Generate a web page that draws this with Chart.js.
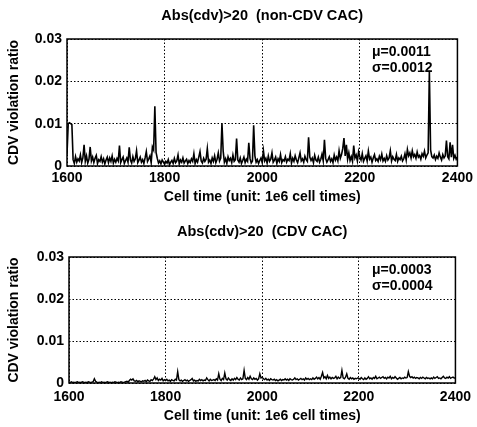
<!DOCTYPE html>
<html>
<head>
<meta charset="utf-8">
<script src="https://cdn.jsdelivr.net/npm/chart.js@4.4.0/dist/chart.umd.min.js"></script>
<style>
  html, body { margin: 0; padding: 0; background: #fff; }
  .box { position: absolute; left: 0; width: 477px; }
</style>
</head>
<body>
<div class="box" style="top:0;height:214px"><canvas id="topChart" width="477" height="214"></canvas></div>
<div class="box" style="top:214px;height:213px"><canvas id="bottomChart" width="477" height="213"></canvas></div>
<script>
// Abs(cdv)>20, non-CDV CAC  (one sample every 2.5 from 1600 to 2400)
const nonCdvRatio = [
  0.0028,0.010,0.0102,0.010,0.0098,0.0015,0.0006,0.0022,0.0009,0.0017,0.0012,0.0026,0.0008,0.0019,0.005,0.0011,0.0024,0.0007,0.0016,0.0045,
  0.0012,0.0021,0.0008,0.0018,0.0025,0.0006,0.0015,0.0011,0.0022,0.0009,0.0017,0.0005,0.0014,0.0021,0.0008,0.0019,0.0011,0.0024,0.0007,0.0016,
  0.0009,0.0018,0.0012,0.0048,0.0008,0.0015,0.0021,0.0006,0.0013,0.0019,0.0009,0.0044,0.0014,0.0007,0.0022,0.0011,0.0017,0.0036,0.0008,0.0014,
  0.0021,0.0009,0.0015,0.0006,0.0019,0.0034,0.0011,0.0017,0.0024,0.0008,0.0045,0.0038,0.0141,0.0032,0.0018,0.0007,0.0012,0.0005,0.0014,0.0009,
  0.0004,0.0011,0.0007,0.0015,0.0003,0.0009,0.0013,0.0006,0.0018,0.0008,0.0012,0.0026,0.0005,0.0014,0.0009,0.0019,0.0007,0.0012,0.0016,0.0006,
  0.0013,0.0008,0.0017,0.0011,0.0029,0.0006,0.0015,0.0009,0.0021,0.0034,0.0012,0.0007,0.0018,0.0011,0.0016,0.0041,0.0009,0.0014,0.0006,0.0019,
  0.0011,0.0024,0.0008,0.0016,0.0031,0.0012,0.0019,0.0101,0.0035,0.0009,0.0017,0.0006,0.0022,0.0013,0.0018,0.0008,0.0026,0.0011,0.0015,0.0065,
  0.0014,0.0009,0.0019,0.0006,0.0013,0.0021,0.0008,0.0016,0.0011,0.0055,0.0018,0.0007,0.0012,0.0096,0.0024,0.0009,0.0015,0.0006,0.0013,0.0019,
  0.0008,0.0036,0.0012,0.0018,0.0007,0.0024,0.0011,0.0016,0.0031,0.0009,0.0014,0.0021,0.0006,0.0017,0.0011,0.0027,0.0008,0.0015,0.0012,0.0022,
  0.0009,0.0016,0.0013,0.0029,0.0007,0.0018,0.0011,0.0024,0.0014,0.0008,0.0019,0.0031,0.0012,0.0017,0.0009,0.0023,0.0015,0.0011,0.0068,0.0021,
  0.0013,0.0019,0.0008,0.0025,0.0014,0.0011,0.0021,0.0009,0.0016,0.0028,0.0012,0.0062,0.0018,0.0009,0.0015,0.0022,0.0011,0.0017,0.0008,0.0026,
  0.0014,0.0021,0.0012,0.0036,0.0018,0.0027,0.0041,0.0066,0.0024,0.005,0.0016,0.0031,0.0013,0.0022,0.0011,0.0048,0.0019,0.0026,0.0012,0.0034,
  0.0022,0.0014,0.0029,0.0011,0.0018,0.0024,0.0012,0.0035,0.0016,0.0021,0.0009,0.0019,0.0027,0.0013,0.0017,0.0011,0.0023,0.0015,0.0028,0.0012,
  0.0018,0.0011,0.0024,0.0014,0.0019,0.0036,0.0012,0.0022,0.0016,0.0013,0.0027,0.0011,0.0019,0.0015,0.0023,0.0012,0.0017,0.0029,0.0014,0.0039,
  0.0024,0.0031,0.0019,0.0036,0.0022,0.0027,0.0018,0.0033,0.0021,0.0025,0.0016,0.0029,0.0023,0.0035,0.0019,0.0026,0.0031,0.0225,0.0038,0.0022,
  0.0019,0.0026,0.0015,0.0023,0.0018,0.0031,0.0021,0.0014,0.0027,0.0019,0.0024,0.006,0.0022,0.0017,0.0056,0.0021,0.005,0.0018,0.0025,0.0016,
  0.0021
];

// Abs(cdv)>20, CDV CAC
const cdvRatio = [
  0.0002,0.0001,0.0003,0.0001,0.0002,0.0001,0.0002,0.0003,0.0001,0.0002,0.0001,0.0003,0.0002,0.0001,0.0002,0.0001,0.0003,0.0002,0.0001,0.0002,
  0.0003,0.0010,0.0004,0.0002,0.0001,0.0002,0.0001,0.0003,0.0001,0.0002,0.0001,0.0002,0.0003,0.0001,0.0002,0.0001,0.0002,0.0001,0.0003,0.0002,
  0.0001,0.0002,0.0001,0.0003,0.0002,0.0001,0.0002,0.0003,0.0004,0.0002,0.0006,0.0009,0.0007,0.0010,0.0005,0.0004,0.0006,0.0003,0.0005,0.0004,
  0.0003,0.0005,0.0004,0.0006,0.0003,0.0007,0.0005,0.0004,0.0008,0.0006,0.0009,0.0015,0.0008,0.0012,0.0006,0.0009,0.0007,0.0011,0.0005,0.0008,
  0.0006,0.0009,0.0005,0.0007,0.0004,0.0008,0.0006,0.0005,0.0009,0.0007,0.0027,0.0008,0.0005,0.0007,0.0004,0.0006,0.0008,0.0005,0.0007,0.0004,
  0.0006,0.0008,0.0011,0.0005,0.0007,0.0004,0.0006,0.0005,0.0009,0.0006,0.0008,0.0005,0.0007,0.0006,0.0012,0.0008,0.0005,0.0009,0.0006,0.0007,
  0.0008,0.0006,0.0010,0.0007,0.0022,0.0009,0.0006,0.0011,0.0008,0.0024,0.0010,0.0007,0.0012,0.0008,0.0006,0.0010,0.0007,0.0011,0.0008,0.0013,
  0.0009,0.0007,0.0012,0.0008,0.0010,0.0030,0.0011,0.0008,0.0013,0.0009,0.0016,0.0010,0.0008,0.0012,0.0009,0.0011,0.0007,0.0010,0.0022,0.0012,
  0.0014,0.0010,0.0008,0.0011,0.0007,0.0009,0.0006,0.0010,0.0008,0.0007,0.0009,0.0006,0.0008,0.0005,0.0007,0.0009,0.0006,0.0008,0.0007,0.0010,
  0.0007,0.0009,0.0006,0.0010,0.0008,0.0007,0.0009,0.0012,0.0008,0.0010,0.0007,0.0009,0.0011,0.0008,0.0010,0.0007,0.0012,0.0009,0.0011,0.0008,
  0.0010,0.0008,0.0012,0.0009,0.0011,0.0014,0.0010,0.0013,0.0009,0.0016,0.0025,0.0012,0.0015,0.0010,0.0018,0.0011,0.0014,0.0010,0.0013,0.0011,
  0.0012,0.0016,0.0010,0.0014,0.0011,0.0013,0.0030,0.0012,0.0010,0.0014,0.0022,0.0011,0.0009,0.0013,0.0010,0.0012,0.0009,0.0011,0.0010,0.0012,
  0.0011,0.0009,0.0013,0.0010,0.0008,0.0012,0.0009,0.0011,0.0015,0.0010,0.0012,0.0009,0.0013,0.0011,0.0016,0.0010,0.0012,0.0014,0.0011,0.0013,
  0.0015,0.0011,0.0013,0.0010,0.0014,0.0012,0.0016,0.0010,0.0013,0.0011,0.0015,0.0012,0.0009,0.0011,0.0013,0.0010,0.0012,0.0011,0.0014,0.0012,
  0.0013,0.0027,0.0016,0.0013,0.0015,0.0012,0.0014,0.0011,0.0013,0.0012,0.0010,0.0013,0.0011,0.0014,0.0012,0.0010,0.0013,0.0011,0.0012,0.0010,
  0.0012,0.0010,0.0014,0.0011,0.0013,0.0015,0.0011,0.0012,0.0010,0.0013,0.0016,0.0012,0.0011,0.0014,0.0012,0.0015,0.0011,0.0013,0.0014,0.0012,
  0.0012
];

// x positions of the samples (cell time, unit 1e6)
const cellTime = Array.from({ length: nonCdvRatio.length }, (_, i) => 1600 + 2.5 * i);

const xTicks = [1600, 1800, 2000, 2200, 2400];
const yTicks = [0, 0.01, 0.02, 0.03];
const topStats = ['μ=0.0011', 'σ=0.0012'];
const bottomStats = ['μ=0.0003', 'σ=0.0004'];

const FONT = '"Liberation Sans", Arial, sans-serif';

// title, frame and mu/sigma text
const decor = {
  id: 'decor',
  afterDraw(chart, args, opts) {
    const { ctx, chartArea: a } = chart;
    ctx.save();
    ctx.strokeStyle = '#000';
    ctx.lineWidth = 1.5;
    ctx.strokeRect(a.left, a.top, a.right - a.left, a.bottom - a.top);
    ctx.fillStyle = '#000';
    ctx.font = 'bold 14.5px ' + FONT;
    ctx.textAlign = 'center';
    ctx.textBaseline = 'middle';
    ctx.fillText(opts.title, (a.left + a.right) / 2, opts.titleY);
    ctx.textAlign = 'left';
    ctx.font = 'bold 14px ' + FONT;
    ctx.fillText(opts.stats[0], 372, a.top + 13);
    ctx.fillText(opts.stats[1], 372, a.top + 29);
    ctx.restore();
  }
};

function makeChart(id, title, values, stats, box) {
  const h = document.getElementById(id).height;
  const axisBottom = box.xTitleY + 9;
  return new Chart(document.getElementById(id), {
    type: 'line',
    data: {
      datasets: [{
        data: cellTime.map((t, i) => ({ x: t, y: values[i] })),
        borderColor: '#000',
        borderWidth: box.lineWidth,
        pointRadius: 0,
        tension: 0,
        fill: false
      }]
    },
    options: {
      responsive: false,
      animation: false,
      layout: { padding: { top: box.top, right: 477 - box.right, left: 6, bottom: h - axisBottom } },
      plugins: {
        legend: { display: false },
        tooltip: { enabled: false },
        decor: { title: title, titleY: box.titleY, stats: stats }
      },
      scales: {
        x: {
          type: 'linear',
          min: xTicks[0],
          max: xTicks[xTicks.length - 1],
          afterBuildTicks: s => { s.ticks = xTicks.map(v => ({ value: v })); },
          afterFit: s => { s.height = axisBottom - box.bottom; },
          grid: { color: '#000', lineWidth: 1, drawTicks: false },
          border: { display: false, dash: [1.5, 2] },
          ticks: { color: '#000', padding: box.tickPad, font: { family: FONT, size: 14, weight: 'bold' }, maxRotation: 0, callback: v => String(v) },
          title: { display: true, text: 'Cell time (unit: 1e6 cell times)', color: '#000', padding: { top: 0, bottom: 0 }, font: { family: FONT, size: 14, weight: 'bold' } }
        },
        y: {
          min: 0,
          max: 0.03,
          afterBuildTicks: s => { s.ticks = yTicks.map(v => ({ value: v })); },
          afterFit: s => { s.width = box.left - 6; },
          grid: { color: '#000', lineWidth: 1, drawTicks: false },
          border: { display: false, dash: [1.5, 2] },
          ticks: { color: '#000', padding: 5, font: { family: FONT, size: 14, weight: 'bold' }, callback: v => String(v) },
          title: { display: true, text: 'CDV violation ratio', color: '#000', padding: { top: 0, bottom: 0 }, font: { family: FONT, size: 14, weight: 'bold' } }
        }
      }
    },
    plugins: [decor]
  });
}

makeChart('topChart', 'Abs(cdv)>20  (non-CDV CAC)', nonCdvRatio, topStats,
  { left: 67, right: 461, top: 39, bottom: 166, titleY: 16, tickPad: 4, xTitleY: 197, lineWidth: 1.6 });
makeChart('bottomChart', 'Abs(cdv)>20  (CDV CAC)', cdvRatio, bottomStats,
  { left: 69, right: 461, top: 43, bottom: 169, titleY: 18, tickPad: 6, xTitleY: 202, lineWidth: 1.4 });
</script>
</body>
</html>
